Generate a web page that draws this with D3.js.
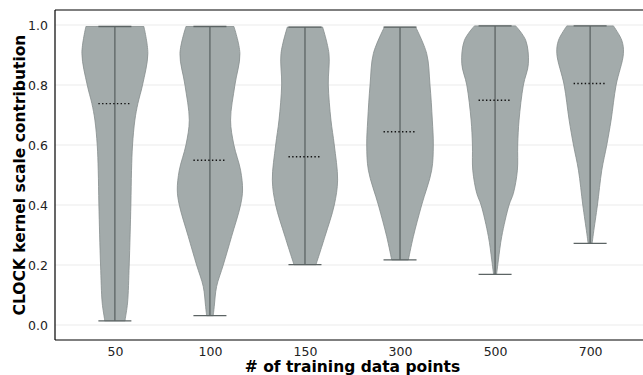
<!DOCTYPE html>
<html>
<head>
<meta charset="utf-8">
<script src="https://cdn.jsdelivr.net/npm/d3@7"></script>
<style>
  html, body { margin: 0; padding: 0; background: #fff; }
  svg { display: block; }
  text { font-family: "DejaVu Sans", sans-serif; }
</style>
</head>
<body>
<div id="chart"></div>
<script>
// Training-set sizes (categories on the x axis)
const groups = ["50", "100", "150", "300", "500", "700"];

// Per-group summary values of the CLOCK kernel scale contribution
const mins  = [0.014, 0.031, 0.201, 0.217, 0.169, 0.272];
const maxs  = [0.995, 0.995, 0.993, 0.993, 0.997, 0.997];
const means = [0.738, 0.549, 0.561, 0.644, 0.749, 0.805];

// Kernel density profiles: [value, relative density] pairs, bottom to top
const density50 = [
  [0.014, 0.31], [0.018, 0.31], [0.073, 0.38], [0.20, 0.43], [0.40, 0.48],
  [0.516, 0.50], [0.60, 0.53], [0.683, 0.60], [0.738, 0.69], [0.80, 0.83],
  [0.905, 0.99], [0.995, 0.87]
];
const density100 = [
  [0.031, 0.10], [0.062, 0.13], [0.128, 0.20], [0.20, 0.40], [0.295, 0.65],
  [0.40, 0.92], [0.45, 0.98], [0.516, 0.92], [0.60, 0.72], [0.683, 0.62],
  [0.80, 0.75], [0.905, 0.90], [0.995, 0.72]
];
const density150 = [
  [0.201, 0.33], [0.295, 0.60], [0.40, 0.88], [0.483, 0.98], [0.60, 0.88],
  [0.683, 0.78], [0.80, 0.70], [0.905, 0.72], [0.993, 0.53]
];
const density300 = [
  [0.217, 0.25], [0.295, 0.40], [0.40, 0.65], [0.516, 0.95], [0.60, 1.00],
  [0.683, 0.97], [0.80, 0.90], [0.905, 0.80], [0.993, 0.47]
];
const density500 = [
  [0.169, 0.045], [0.217, 0.10], [0.295, 0.20], [0.40, 0.42], [0.439, 0.55],
  [0.516, 0.67], [0.60, 0.68], [0.683, 0.72], [0.80, 0.85], [0.871, 1.00],
  [0.949, 0.92], [0.997, 0.62]
];
const density700 = [
  [0.272, 0.06], [0.306, 0.10], [0.40, 0.22], [0.516, 0.35], [0.60, 0.50],
  [0.683, 0.63], [0.80, 0.78], [0.905, 1.00], [0.949, 0.95], [0.997, 0.70]
];
const densities = [density50, density100, density150, density300, density500, density700];

// Y tick values
const yTicks = [0.0, 0.2, 0.4, 0.6, 0.8, 1.0];

const W = 643, H = 375;
const margin = { left: 55, top: 10, bottom: 35 };
const plotRight = 650; // plot area runs past the right edge of the frame

const svg = d3.select("#chart").append("svg")
  .attr("width", W).attr("height", H);

const x = d3.scaleLinear()
  .domain([-0.63, groups.length - 1 + 0.63])
  .range([margin.left, plotRight]);

const y = d3.scaleLinear()
  .domain([-0.05, 1.05])
  .range([H - margin.bottom, margin.top]);

const halfWidth = d3.scaleLinear().domain([0, 1]).range([0, 33.3]);

// Grid lines
svg.append("g")
  .selectAll("line")
  .data(yTicks)
  .join("line")
  .attr("x1", margin.left).attr("x2", plotRight)
  .attr("y1", d => y(d)).attr("y2", d => y(d))
  .attr("stroke", "#ebebeb").attr("stroke-width", 1);

// Violins
const area = d3.area()
  .y(d => y(d[0]))
  .curve(d3.curveCatmullRom.alpha(0.5));

const g = svg.append("g");
groups.forEach((name, i) => {
  const cx = x(i);
  const prof = densities[i];
  g.append("path")
    .datum(prof)
    .attr("d", area.x0(d => cx - halfWidth(d[1])).x1(d => cx + halfWidth(d[1])))
    .attr("fill", "#a3abab")
    .attr("stroke", "#858d8d")
    .attr("stroke-width", 0.8);

  // Range line and caps
  g.append("line")
    .attr("x1", cx).attr("x2", cx)
    .attr("y1", y(mins[i])).attr("y2", y(maxs[i]))
    .attr("stroke", "#5c6464").attr("stroke-width", 1.3);
  [mins[i], maxs[i]].forEach(v => {
    g.append("line")
      .attr("x1", cx - 16.5).attr("x2", cx + 16.5)
      .attr("y1", y(v)).attr("y2", y(v))
      .attr("stroke", "#5c6464").attr("stroke-width", 1.3);
  });

  // Mean marker
  g.append("line")
    .attr("x1", cx - 16.5).attr("x2", cx + 16.5)
    .attr("y1", y(means[i])).attr("y2", y(means[i]))
    .attr("stroke", "#111").attr("stroke-width", 1.4)
    .attr("stroke-dasharray", "1.4,2.3");
});

// Spines
const spine = svg.append("g").attr("stroke", "#000").attr("stroke-width", 1.2);
spine.append("line").attr("x1", margin.left).attr("x2", margin.left)
  .attr("y1", y(-0.05)).attr("y2", y(1.05));
spine.append("line").attr("x1", margin.left).attr("x2", plotRight)
  .attr("y1", y(-0.05)).attr("y2", y(-0.05));
spine.append("line").attr("x1", margin.left).attr("x2", plotRight)
  .attr("y1", y(1.05)).attr("y2", y(1.05));

// Y axis
const yAxis = svg.append("g")
  .attr("transform", `translate(${margin.left},0)`)
  .call(d3.axisLeft(y).tickValues(yTicks).tickFormat(d3.format(".1f")).tickSize(0).tickPadding(7));
yAxis.select(".domain").remove();
yAxis.selectAll("text").attr("font-size", 12.5).attr("fill", "#222")
  .attr("font-family", "DejaVu Sans, sans-serif");

// X axis
const xAxis = svg.append("g")
  .attr("transform", `translate(0,${y(-0.05)})`)
  .call(d3.axisBottom(x).tickValues(d3.range(groups.length)).tickFormat(i => groups[i]).tickSize(0).tickPadding(7));
xAxis.select(".domain").remove();
xAxis.selectAll("text").attr("font-size", 12.5).attr("fill", "#222")
  .attr("font-family", "DejaVu Sans, sans-serif");

// Axis titles
svg.append("text")
  .attr("x", (margin.left + plotRight) / 2)
  .attr("y", 372)
  .attr("text-anchor", "middle")
  .attr("font-size", 15.5).attr("font-weight", "bold")
  .text("# of training data points");

svg.append("text")
  .attr("transform", `translate(25,${(y(-0.05) + y(1.05)) / 2}) rotate(-90)`)
  .attr("text-anchor", "middle")
  .attr("font-size", 15.5).attr("font-weight", "bold")
  .text("CLOCK kernel scale contribution");
</script>
</body>
</html>
